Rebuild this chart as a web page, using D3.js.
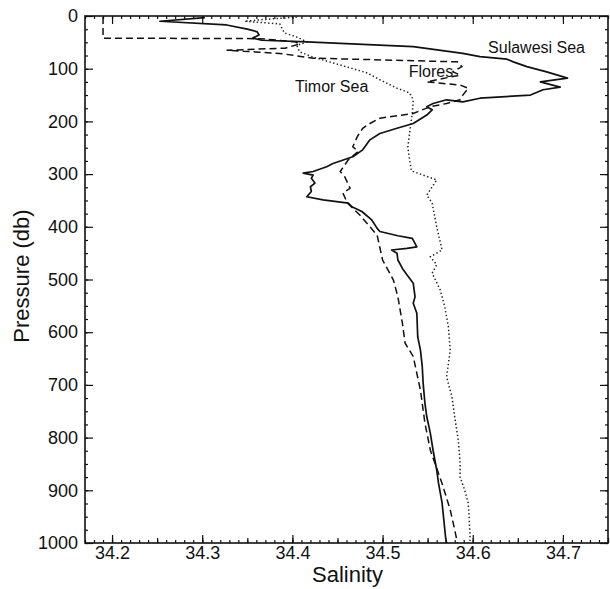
<!DOCTYPE html>
<html><head><meta charset="utf-8">
<script src="https://cdn.jsdelivr.net/npm/d3@7"></script>
<style>
body{margin:0;background:#fff}
text{font-family:"Liberation Sans",Arial,Helvetica,sans-serif;fill:#111}
</style>
</head><body>
<svg id="chart" width="610" height="589"></svg>
<script>
// ---- data (salinity in psu, pressure in db) ----
const sulawesiS = [34.303,34.253,34.327,34.350,34.361,34.363,34.356,34.366,34.416,34.534,34.589,34.608,34.638,34.645,34.660,34.682,34.705,34.675,34.697,34.678,34.664,34.608,34.589,34.571,34.556,34.549,34.555,34.549,34.534,34.516,34.497,34.486,34.478,34.467,34.445,34.438,34.423,34.412,34.423,34.421,34.425,34.420,34.421,34.416,34.434,34.462,34.466,34.477,34.488,34.494,34.497,34.517,34.533,34.538,34.527,34.510,34.516,34.517,34.522,34.527,34.534,34.536,34.534,34.538,34.539,34.542,34.544,34.545,34.547,34.549,34.553,34.556,34.560,34.562,34.566,34.570,34.571];
const sulawesiP = [3,10,17,25,30,36,42,46,49,58,71,77,82,87,96,106,118,125,135,140,150,156,163,159,166,172,178,188,204,213,223,235,254,267,280,286,295,298,302,308,317,324,333,343,349,355,362,371,387,403,409,417,422,438,441,444,450,463,479,491,507,533,545,564,609,634,665,697,735,760,792,824,861,886,924,991,1000];

const floresS = [34.190,34.190,34.364,34.403,34.408,34.392,34.327,34.386,34.423,34.583,34.588,34.578,34.586,34.549,34.586,34.595,34.589,34.586,34.571,34.553,34.534,34.497,34.486,34.478,34.472,34.467,34.473,34.462,34.453,34.458,34.464,34.456,34.461,34.475,34.494,34.500,34.512,34.517,34.522,34.525,34.534,34.542,34.547,34.553,34.566,34.575,34.580,34.583];
const floresP = [2,42,43,49,53,61,65,71,80,87,96,106,112,125,131,137,150,159,166,172,185,194,204,213,229,248,257,273,295,305,327,336,355,378,416,463,501,533,583,621,646,710,773,824,887,937,975,1000];

const timorS = [34.405,34.366,34.347,34.386,34.391,34.405,34.416,34.405,34.408,34.423,34.453,34.483,34.497,34.516,34.530,34.534,34.533,34.530,34.528,34.530,34.532,34.560,34.549,34.555,34.560,34.566,34.553,34.560,34.555,34.564,34.569,34.573,34.575,34.571,34.577,34.580,34.584,34.586,34.586,34.591,34.595,34.596,34.597,34.597];
const timorP = [2,7,10,15,32,40,49,56,68,78,93,108,121,137,146,159,184,222,249,273,294,311,340,355,400,444,457,472,488,520,552,590,634,685,723,761,805,848,875,899,924,951,989,1000];

const salinityTicks = [34.2,34.3,34.4,34.5,34.6,34.7];
const pressureTicks = [0,100,200,300,400,500,600,700,800,900,1000];
const salinityDomain = [34.17,34.75];
const pressureDomain = [0,1000];

const labelText = ["Sulawesi Sea","Flores","Timor Sea"];
const labelS = [34.617,34.529,34.403];
const labelP = [70,115,144];

// ---- layout ----
const svg = d3.select("#chart");
const L = 85, R = 608, T = 16, B = 543;
const x = d3.scaleLinear().domain(salinityDomain).range([L, R]);
const y = d3.scaleLinear().domain(pressureDomain).range([T, B]);

const minorX = d3.range(3417, 3476).map(v => v / 100);
const midX = d3.range(3415, 3476, 5).map(v => v / 100).filter(v => v >= 34.17);
const minorY = d3.range(0, 1001, 25);

function axisStyle(g) {
  g.select(".domain").remove();
  g.selectAll("line").attr("stroke", "#111").attr("stroke-width", 1.2);
}

// bottom
svg.append("g").attr("transform", `translate(0,${B})`)
  .call(d3.axisBottom(x).tickValues(minorX).tickSize(-3).tickFormat("")).call(axisStyle);
svg.append("g").attr("transform", `translate(0,${B})`)
  .call(d3.axisBottom(x).tickValues(midX).tickSize(-5).tickFormat("")).call(axisStyle);
svg.append("g").attr("transform", `translate(0,${B})`)
  .call(d3.axisBottom(x).tickValues(salinityTicks).tickSize(-8).tickPadding(3).tickFormat(d3.format(".1f")))
  .call(axisStyle)
  .call(g => g.selectAll("text").attr("font-size", 18).attr("fill", "#111"));
// top
svg.append("g").attr("transform", `translate(0,${T})`)
  .call(d3.axisTop(x).tickValues(minorX).tickSize(-3).tickFormat("")).call(axisStyle);
svg.append("g").attr("transform", `translate(0,${T})`)
  .call(d3.axisTop(x).tickValues(salinityTicks).tickSize(-8).tickFormat("")).call(axisStyle);
// left
svg.append("g").attr("transform", `translate(${L},0)`)
  .call(d3.axisLeft(y).tickValues(minorY).tickSize(-3).tickFormat("")).call(axisStyle);
svg.append("g").attr("transform", `translate(${L},0)`)
  .call(d3.axisLeft(y).tickValues(pressureTicks).tickSize(-8).tickPadding(7).tickFormat(d3.format("d")))
  .call(axisStyle)
  .call(g => g.selectAll("text").attr("font-size", 18).attr("fill", "#111"));
// right
svg.append("g").attr("transform", `translate(${R},0)`)
  .call(d3.axisRight(y).tickValues(minorY).tickSize(-3).tickFormat("")).call(axisStyle);
svg.append("g").attr("transform", `translate(${R},0)`)
  .call(d3.axisRight(y).tickValues(pressureTicks).tickSize(-8).tickFormat("")).call(axisStyle);

// frame
svg.append("rect").attr("x", L).attr("y", T).attr("width", R - L).attr("height", B - T)
  .attr("fill", "none").attr("stroke", "#111").attr("stroke-width", 1.6);

// profiles
const line = d3.line().x(d => x(d[0])).y(d => y(d[1]));
const zip = (a, b) => a.map((v, i) => [v, b[i]]);

const plot = svg.append("g");
plot.append("path").datum(zip(timorS, timorP)).attr("d", line)
  .attr("fill", "none").attr("stroke", "#222").attr("stroke-width", 1.5)
  .attr("stroke-dasharray", "1.4,2.4");
plot.append("path").datum(zip(floresS, floresP)).attr("d", line)
  .attr("fill", "none").attr("stroke", "#111").attr("stroke-width", 1.5)
  .attr("stroke-dasharray", "7,4");
plot.append("path").datum(zip(sulawesiS, sulawesiP)).attr("d", line)
  .attr("fill", "none").attr("stroke", "#111").attr("stroke-width", 1.7)
  .attr("stroke-linejoin", "round");

// labels
labelText.forEach((t, i) => {
  svg.append("text").attr("x", x(labelS[i])).attr("y", y(labelP[i]))
    .attr("font-size", 16).text(t);
});

// axis titles
svg.append("text").attr("x", (L + R) / 2 + 1).attr("y", 582)
  .attr("text-anchor", "middle").attr("font-size", 22).text("Salinity");
svg.append("text").attr("transform", `translate(29,276) rotate(-90)`)
  .attr("text-anchor", "middle").attr("font-size", 22).text("Pressure (db)");
</script>
</body></html>
